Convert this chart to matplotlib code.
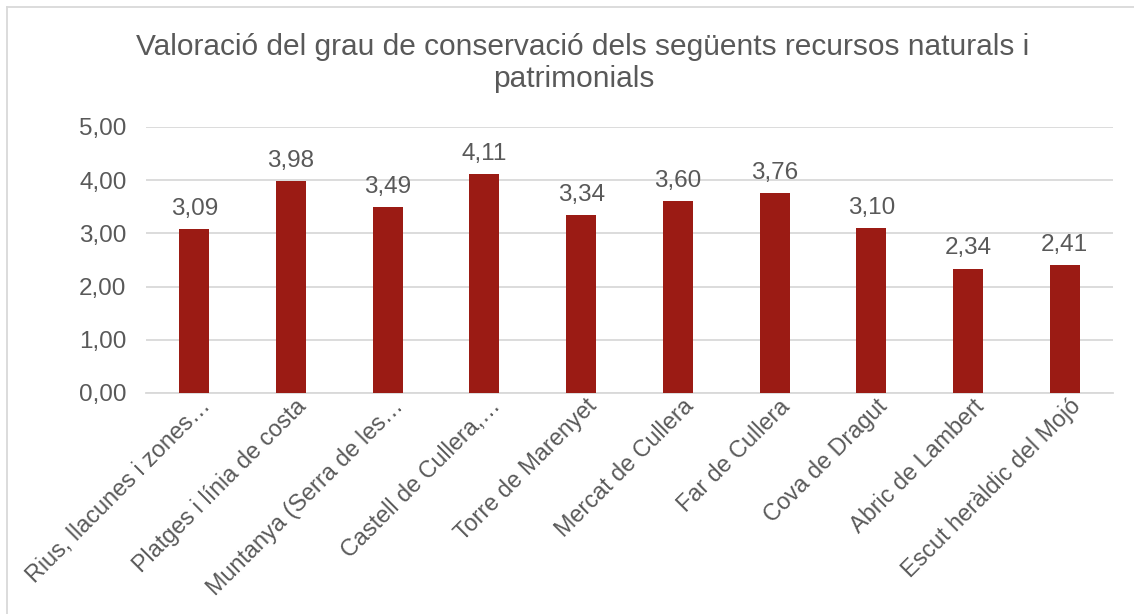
import matplotlib
matplotlib.use('Agg')
import matplotlib.pyplot as plt
import matplotlib.transforms as mtransforms
import numpy as np

plt.rcParams['font.family'] = ['Liberation Sans', 'DejaVu Sans']

# Data
categories = ['Rius, llacunes i zones…', 'Platges i línia de costa', 'Muntanya (Serra de les…',
              'Castell de Cullera,…', 'Torre de Marenyet', 'Mercat de Cullera',
              'Far de Cullera', 'Cova de Dragut', 'Abric de Lambert', 'Escut heràldic del Mojó']
values = [3.09, 3.98, 3.49, 4.11, 3.34, 3.60, 3.76, 3.10, 2.34, 2.41]
yticks = [0, 1, 2, 3, 4, 5]

txt = '#595959'
bar_col = '#9B1B14'

fig = plt.figure(figsize=(11.34, 6.14), dpi=100)
ax = fig.add_axes([146/1134, 1 - 393/614, (1113-146)/1134, (393-127)/614])

x = np.arange(len(categories))
ax.bar(x, values, width=0.31, color=bar_col, zorder=3)
for xi, v in zip(x, values):
    ax.text(xi, v + 0.17, f'{v:.2f}'.replace('.', ','), ha='center', va='bottom',
            fontsize=17.5, color=txt)

ax.set_xlim(-0.5, len(categories) - 0.5)
ax.set_ylim(0, 5)
ax.set_yticks(yticks)
ax.set_yticklabels([f'{t:.2f}'.replace('.', ',') for t in yticks], fontsize=17.5, color=txt)
ax.set_xticks(x)
ax.set_xticklabels(categories, rotation=45, ha='right', rotation_mode='anchor',
                   fontsize=16.8, color=txt)
ax.tick_params(length=0)
ax.tick_params(axis='y', pad=14)
ax.tick_params(axis='x', pad=2)
shift = mtransforms.ScaledTranslation(4/100, 1/100, fig.dpi_scale_trans)
for lab in ax.get_xticklabels():
    lab.set_transform(lab.get_transform() + shift)
ax.grid(axis='y', color='#D9D9D9', linewidth=1.3, zorder=0)
for s in ['top', 'right', 'left']:
    ax.spines[s].set_visible(False)
ax.spines['bottom'].set_color('#D9D9D9')
ax.spines['bottom'].set_linewidth(1.3)

fig.text(583/1134, 1 - 47/614, 'Valoració del grau de conservació dels següents recursos naturals i',
         ha='center', va='center', fontsize=21.5, color=txt)
fig.text(574/1134, 1 - 79/614, 'patrimonials', ha='center', va='center', fontsize=21.5, color=txt)

# chart frame (only left and top edges visible in the crop)
fig.add_artist(plt.Line2D([7/1134, 7/1134], [0, 1 - 7/614], color='#D9D9D9', lw=1.3))
fig.add_artist(plt.Line2D([7/1134, 1], [1 - 7/614, 1 - 7/614], color='#D9D9D9', lw=1.3))

fig.savefig('out.png', dpi=100)
